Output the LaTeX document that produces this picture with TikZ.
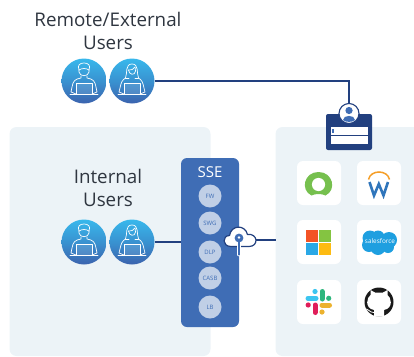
\documentclass[tikz,border=0pt]{standalone}
\usepackage{fontspec}
\setmainfont{Open Sans}
\usetikzlibrary{shapes,arrows}
\definecolor{panelbg}{HTML}{ECF3F7}
\definecolor{navy}{HTML}{22407F}
\definecolor{ssefill}{HTML}{3F6DB5}
\definecolor{ssedot}{HTML}{C0CFE6}
\definecolor{titlegrey}{HTML}{2F3640}
\definecolor{topblue}{HTML}{38B8EC}
\definecolor{lowblue}{HTML}{3B63AE}
\definecolor{ringgreen}{HTML}{76C04E}
\definecolor{wblue}{HTML}{2F75BB}
\definecolor{warc}{HTML}{F59E27}
\definecolor{msred}{HTML}{F35325}
\definecolor{msgreen}{HTML}{84C441}
\definecolor{msblue}{HTML}{2AA8E6}
\definecolor{msyellow}{HTML}{FDBB12}
\definecolor{sfblue}{HTML}{1E9FE0}
\definecolor{slblue}{HTML}{3CC5F0}
\definecolor{slgreen}{HTML}{2EB67D}
\definecolor{slred}{HTML}{E01E5A}
\definecolor{slyellow}{HTML}{ECB22E}
\tikzset{
  panel/.style={fill=panelbg,rounded corners=7pt},
  usercirc/.style={circle,minimum size=45pt,inner sep=0pt,top color=topblue,bottom color=lowblue,middle color=topblue!55!lowblue},
  title/.style={text=titlegrey,font=\fontsize{18.8}{23}\selectfont,align=center},
  ssedisc/.style={circle,fill=ssedot,minimum size=23pt,inner sep=0pt,text=ssefill,font=\fontsize{6}{7}\selectfont},
  apptile/.style={fill=white,rounded corners=6pt,minimum size=44pt,inner sep=0pt},
  link/.style={navy,line width=1.2pt},
  icon/.style={white,line width=0.7pt,line join=round,line cap=round},
  laptop/.pic={
    \fill[white,opacity=.12] (-8,2.5) rectangle (8.5,13);
    \draw[icon] (-8,13) -- (-8,2.5) -- (8.5,2.5) -- (8.5,13);
    \draw[icon] (-14,13.4) -- (14,13.4);
  },
  manuser/.pic={
    \draw[icon] (-5,-11) .. controls (-7,-16) and (-4,-18) .. (0,-18) .. controls (4,-18) and (7,-16) .. (5,-11);
    \draw[icon] (-5,-11) .. controls (-2,-13) and (2,-13) .. (5,-11);
    \draw[icon] (-5,-11) -- (-5,-9) .. controls (-4,-4) and (4,-4) .. (5,-9) -- (5,-11);
    \draw[icon] (-3,-5) -- (-3,-3) .. controls (-9,-2) and (-11,0) .. (-12,6) -- (-13,11) -- (-8,13);
    \draw[icon] (3,-5) -- (3,-3) .. controls (9,-2) and (11,0) .. (12,6) -- (13,11) -- (8,13);
    \pic {laptop};
  },
  womanuser/.pic={
    \draw[icon] (-6.5,-3) .. controls (-4.5,-8) and (-7,-17) .. (0,-17) .. controls (7,-17) and (4.5,-8) .. (6.5,-3);
    \draw[icon] (-6.5,-3) -- (-3,-3);
    \draw[icon] (6.5,-3) -- (3,-3);
    \draw[icon] (-3.5,-11) .. controls (0,-11) and (2,-12) .. (3,-14);
    \draw[icon] (-3.5,-11) .. controls (-3,-6) and (3,-5) .. (3.5,-10) -- (3,-14);
    \draw[icon] (-6.5,-3) .. controls (-10,-1) and (-11,2) .. (-12,7) -- (-13,11) -- (-8,13);
    \draw[icon] (6.5,-3) .. controls (10,-1) and (11,2) .. (12,7) -- (13,11) -- (8,13);
    \pic {laptop};
  },
}
\begin{document}
\begin{tikzpicture}[x=1pt,y=-1pt]
\useasboundingbox (0,0) rectangle (414,356);
\fill[panel] (9.5,127) -- (210.5,127) -- (210.5,356) -- (9.5,356) -- cycle;
\fill[panel] (275.5,127) -- (430,127) -- (430,356) -- (275.5,356) -- cycle;
% titles
\node[title] (remotetitle) at (108,31) {Remote/External\\Users};
\node[title] (internaltitle) at (108,188) {Internal\\Users};
% users
\node[usercirc] (remote1) at (84,81) {};
\node[usercirc] (remote2) at (132,81) {};
\node[usercirc] (internal1) at (84,242) {};
\node[usercirc] (internal2) at (132,242) {};
\pic at (remote1.center) {manuser};
\pic at (remote2.center) {womanuser};
\pic at (internal1.center) {manuser};
\pic at (internal2.center) {womanuser};
% sse
\node[fill=ssefill,rounded corners=6pt,minimum width=58pt,minimum height=169pt,inner sep=0pt] (sse) at (210,242.5) {};
\node[text=white,font=\fontsize{15}{16}\selectfont] (ssetitle) at (210,172) {SSE};
\node[ssedisc] (fw) at (210,196) {FW};
\node[ssedisc] (swg) at (210,223) {SWG};
\node[ssedisc] (dlp) at (210,252) {DLP};
\node[ssedisc] (casb) at (210,278) {CASB};
\node[ssedisc] (lb) at (210,307) {LB};
% apps
\node[apptile] (app1) at (319,183) {};
\node[apptile] (app2) at (379,183) {};
\node[apptile] (app3) at (319,242) {};
\node[apptile] (app4) at (379,242) {};
\node[apptile] (app5) at (319,302) {};
\node[apptile] (app6) at (379,302) {};
% connectors
\coordinate (cloudin) at (240,240);
\coordinate (corner) at (349,81);
\coordinate (appsedge) at (275.5,240);
\node[fill=navy,rounded corners=2pt,minimum width=46pt,minimum height=36pt,inner sep=0pt] (badge) at (349,132) {};
\draw[link] (internal2) -- (sse.west |- internal2);
\draw[link] (remote2) -- (corner) -- (badge);
\draw[link] (cloudin) -- (appsedge);
% badge
\node[fill=white,minimum width=37pt,minimum height=7.5pt,inner sep=0pt] (bar1) at (349.5,130.8) {};
\node[fill=white,minimum width=37pt,minimum height=7.5pt,inner sep=0pt] (bar2) at (349.5,140) {};
\fill[ssefill] (332,129) rectangle (333.5,132.8);
\node[circle,draw=navy,fill=white,line width=1.1pt,minimum size=20pt,inner sep=0pt] (badgehead) at (349,113.5) {};
\fill[ssefill] (349,110.5) circle (3.6);
\fill[ssefill] (343,120) .. controls (343,114.5) and (355,114.5) .. (355,120) .. controls (353,122.5) and (345,122.5) .. (343,120);
% cloud
\filldraw[fill=white,draw=navy,line width=1.2pt,line join=round] (231,246.5) .. controls (222,246.5) and (222,235.5) .. (229.5,235.5) .. controls (231,225) and (245,224) .. (247.5,234.5) .. controls (258,233) and (259,246.5) .. (249,246.5) -- cycle;
\draw[white,line width=3.6pt,line cap=round] (239,244) -- (239,254.5);
\draw[ssefill,line width=2.2pt,line cap=round] (239,238) -- (239,254.5);
\fill[ssefill] (239,238) circle (4.4);
\fill[white] (239,237.5) circle (1.3);
% ring logo
\fill[ringgreen] (311.5,195.5) .. controls (300,190) and (304,172) .. (318.5,172) .. controls (333,172) and (337,190) .. (325.5,195.5) .. controls (322,193.5) and (315,193.5) .. (311.5,195.5) -- cycle;
\fill[white] (318.5,184.5) circle (6.6);
% workday logo
\draw[warc,line width=1.5pt] (368.5,179.5) .. controls (370.5,169.5) and (387.5,169.5) .. (389.5,179.5);
\draw[wblue,line width=2.6pt,line join=miter] (369.5,182) -- (374,195.5) -- (378.8,184) -- (383.5,195.5) -- (388,182);
% squares logo
\fill[msred] (306,230) rectangle (318,242);
\fill[msgreen] (319,230) rectangle (331,242);
\fill[msblue] (306,243) rectangle (318,255);
\fill[msyellow] (319,243) rectangle (331,255);
% cloud logo
\fill[sfblue] (370,238) circle (7.5) (378,237) circle (6.5) (389,240) circle (8) (369,245) circle (7) (378,247.5) circle (7.5) (388,247) circle (6) (380,242) circle (8);
\node[text=white,font=\fontsize{6.4}{7}\selectfont] (cloudname) at (380,241.5) {salesforce};
% slack logo
\draw[slblue,line width=5pt,line cap=round] (308,298.3) -- (316,298.3);
\fill[slblue] (315,291.5) circle (2.6);
\draw[slgreen,line width=5pt,line cap=round] (322,291.5) -- (322,299);
\fill[slgreen] (328.7,298.3) circle (2.6);
\draw[slred,line width=5pt,line cap=round] (315,305) -- (315,312.5);
\fill[slred] (308.2,305) circle (2.6);
\draw[slyellow,line width=5pt,line cap=round] (322,305) -- (329.5,305);
\fill[slyellow] (322,312) circle (2.6);
% octocat logo
\fill[black!90] (379,302) circle (14.5);
\fill[white] (374,316.5) -- (374,310) .. controls (364,308) and (367,297) .. (370.5,295) -- (370.5,290) -- (375,292.5) -- (383,292.5) -- (387.5,290) -- (387.5,295) .. controls (391,297) and (394,308) .. (384,310) -- (384,316.5) -- cycle;
\draw[white,line width=0.8pt,line cap=round] (366.5,309) .. controls (369,309) and (369,312.5) .. (374,312.5);
\end{tikzpicture}
\end{document}
